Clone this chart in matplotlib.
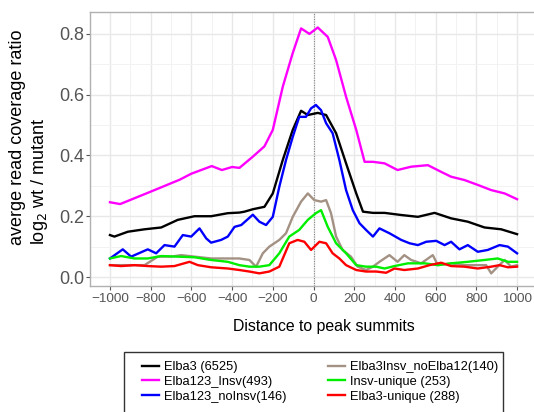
import matplotlib
matplotlib.use("Agg")
import matplotlib.pyplot as plt
from matplotlib.patches import Rectangle
from matplotlib.ticker import MultipleLocator

plt.rcParams['font.family'] = ['Liberation Sans', 'DejaVu Sans']

# ---- data ----
labels = ["Elba3 (6525)", "Elba123_Insv(493)", "Elba123_noInsv(146)",
          "Elba3Insv_noElba12(140)", "Insv-unique (253)", "Elba3-unique (288)"]
colors = ["#000000", "#FF00FF", "#0000FF", "#A39183", "#00EE00", "#FF0000"]

black_x = [-1000, -978, -912, -830, -748, -667, -585, -503, -421, -364, -339, -298, -241, -200, -151, -102,
           -61, -28, 21, 62, 111, 160, 210, 243, 292, 349, 431, 513, 595, 676, 758, 840, 922, 1000]
black_y = [0.138, 0.133, 0.149, 0.157, 0.163, 0.188, 0.200, 0.200, 0.210, 0.212, 0.215, 0.223, 0.231, 0.275,
           0.385, 0.484, 0.547, 0.533, 0.540, 0.533, 0.473, 0.374, 0.275, 0.215, 0.211, 0.211, 0.204, 0.198,
           0.211, 0.193, 0.182, 0.163, 0.157, 0.141]

magenta_x = [-1000, -950, -803, -658, -600, -500, -450, -400, -364, -298, -241, -200, -151, -102, -61, -20,
             21, 70, 111, 160, 210, 251, 292, 349, 413, 480, 562, 627, 676, 742, 807, 873, 939, 1000]
magenta_y = [0.246, 0.240, 0.280, 0.320, 0.340, 0.365, 0.352, 0.362, 0.359, 0.396, 0.430, 0.484, 0.626,
             0.737, 0.818, 0.800, 0.821, 0.790, 0.714, 0.593, 0.484, 0.379, 0.379, 0.374, 0.352, 0.363,
             0.368, 0.346, 0.330, 0.319, 0.303, 0.286, 0.275, 0.256]

blue_x = [-1000, -937, -896, -814, -773, -732, -683, -642, -601, -560, -527, -503, -454, -421, -388, -355,
          -298, -266, -233, -200, -168, -135, -102, -70, -37, -12, 12, 37, 62, 94, 127, 160, 193, 226, 258,
          292, 324, 373, 431, 472, 513, 554, 603, 644, 676, 717, 758, 807, 856, 914, 955, 1000]
blue_y = [0.061, 0.091, 0.067, 0.091, 0.078, 0.105, 0.100, 0.138, 0.133, 0.160, 0.127, 0.113, 0.122, 0.133,
          0.165, 0.171, 0.205, 0.182, 0.171, 0.198, 0.297, 0.385, 0.461, 0.527, 0.527, 0.555, 0.566, 0.549,
          0.506, 0.473, 0.385, 0.286, 0.220, 0.177, 0.155, 0.133, 0.160, 0.144, 0.122, 0.111, 0.105, 0.116,
          0.119, 0.105, 0.116, 0.091, 0.105, 0.083, 0.089, 0.105, 0.100, 0.078]

gray_x = [-1000, -912, -830, -765, -700, -650, -585, -503, -421, -364, -315, -282, -249, -217, -168, -135,
          -102, -61, -28, 4, 37, 62, 86, 111, 143, 184, 217, 258, 292, 324, 373, 413, 446, 480, 529, 586,
          611, 676, 742, 807, 848, 873, 905, 939, 971, 1000]
gray_y = [0.039, 0.039, 0.039, 0.067, 0.067, 0.072, 0.067, 0.061, 0.061, 0.061, 0.056, 0.034, 0.078, 0.100,
          0.122, 0.144, 0.198, 0.248, 0.275, 0.253, 0.248, 0.253, 0.210, 0.133, 0.089, 0.067, 0.034, 0.023,
          0.034, 0.050, 0.072, 0.050, 0.072, 0.056, 0.045, 0.072, 0.039, 0.045, 0.039, 0.039, 0.039, 0.012,
          0.034, 0.056, 0.034, 0.039]

green_x = [-1000, -945, -880, -814, -748, -667, -585, -503, -421, -364, -315, -266, -217, -168, -119, -70,
           -28, 12, 37, 70, 111, 160, 210, 258, 308, 349, 398, 464, 546, 611, 676, 758, 840, 905, 955, 1000]
green_y = [0.061, 0.069, 0.061, 0.061, 0.069, 0.067, 0.065, 0.056, 0.050, 0.039, 0.034, 0.034, 0.039, 0.078,
           0.133, 0.155, 0.188, 0.210, 0.220, 0.165, 0.111, 0.078, 0.039, 0.034, 0.034, 0.028, 0.036, 0.045,
           0.045, 0.039, 0.045, 0.050, 0.056, 0.061, 0.050, 0.050]

red_x = [-1000, -945, -880, -814, -748, -683, -609, -568, -503, -421, -364, -315, -266, -217, -168, -119,
         -78, -45, -12, 29, 62, 94, 127, 160, 210, 258, 308, 357, 398, 446, 513, 570, 627, 676, 742, 807,
         873, 914, 955, 1000]
red_y = [0.039, 0.036, 0.039, 0.036, 0.034, 0.036, 0.050, 0.039, 0.032, 0.028, 0.023, 0.018, 0.012, 0.018,
         0.034, 0.111, 0.122, 0.116, 0.089, 0.116, 0.111, 0.078, 0.061, 0.039, 0.023, 0.018, 0.018, 0.014,
         0.028, 0.023, 0.028, 0.039, 0.047, 0.036, 0.034, 0.028, 0.034, 0.039, 0.032, 0.034]

series = [(black_x, black_y), (magenta_x, magenta_y), (blue_x, blue_y),
          (gray_x, gray_y), (green_x, green_y), (red_x, red_y)]

xticks = [-1000, -800, -600, -400, -200, 0, 200, 400, 600, 800, 1000]
yticks = [0.0, 0.2, 0.4, 0.6, 0.8]

# ---- figure ----
W, H = 534, 412
fig = plt.figure(figsize=(W / 100, H / 100), dpi=100)

def fx(px):
    return px / W

def fy(py):
    return 1 - py / H

ax = fig.add_axes([fx(90), fy(286), fx(537) - fx(90), fy(12) - fy(286)])
ax.set_xlim(-1098, 1098)
ax.set_ylim(-0.0296, 0.872)

ax.set_xticks(xticks)
ax.set_yticks(yticks)
ax.set_xticklabels([f"{t}".replace("-", "\u2212") for t in xticks])
ax.set_yticklabels([f"{t:.1f}" for t in yticks])
ax.xaxis.set_minor_locator(MultipleLocator(100))
ax.yaxis.set_minor_locator(MultipleLocator(0.1))
ax.grid(True, which='major', color='#E8E8E8', lw=1.0, zorder=0)
ax.grid(True, which='minor', color='#F2F2F2', lw=0.7, zorder=0)
ax.set_axisbelow(True)
ax.tick_params(axis='x', which='major', labelsize=9.7, colors='#555555', length=3, width=0.8, pad=2)
ax.tick_params(axis='y', which='major', labelsize=13, colors='#555555', length=3, width=0.8, pad=1)
ax.tick_params(which='minor', length=0)
for s in ax.spines.values():
    s.set_color('#B0B0B0')
    s.set_linewidth(1.0)

ax.axvline(0, color='#888888', lw=0.8, linestyle=(0, (1, 1.2)), zorder=1)

handles = []
for (xs, ys), c, lab in zip(series, colors, labels):
    h, = ax.plot(xs, ys, color=c, lw=1.7, label=lab, zorder=3, solid_joinstyle='round')
    handles.append(h)

fig.text(fx(324), fy(326), "Distance to peak summits", ha='center', va='center', fontsize=11.4)
fig.text(fx(18), fy(245), "averge read coverage ratio", rotation=90, ha='center', va='bottom', fontsize=13)
fig.text(fx(40), fy(245), "log$_2$ wt / mutant", rotation=90, ha='center', va='bottom', fontsize=13)

# legend frame
fig.patches.append(Rectangle((fx(124), fy(420)), fx(503) - fx(124), fy(352) - fy(420),
                             transform=fig.transFigure, fill=False, edgecolor='#333333', lw=1.0))
leg = fig.legend(handles=handles, labels=labels, ncol=2, frameon=False, loc='upper left',
                 bbox_to_anchor=(fx(142), fy(361)), borderpad=0, borderaxespad=0,
                 fontsize=9.3, handlelength=1.35, handletextpad=0.35, columnspacing=3.2,
                 labelspacing=0.22)

fig.savefig("out.png", dpi=100)
